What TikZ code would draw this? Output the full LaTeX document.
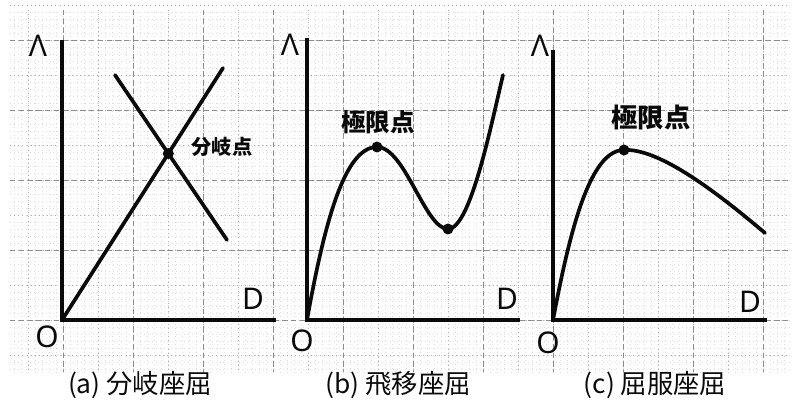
\documentclass[tikz,border=0pt]{standalone}
\usepackage{fontspec}
\setmainfont{Noto Sans}
\newfontfamily\jp{Noto Sans CJK JP}
\usepackage{tikz}
\usetikzlibrary{calc}
\definecolor{ink}{RGB}{10,10,10}
\definecolor{gridline}{RGB}{120,120,120}
\tikzset{
  axis/.style={draw=ink,line width=2.1pt},
  curve/.style={draw=ink,line width=2.1pt,line cap=round},
  crit/.style={circle,fill=ink,inner sep=0pt,minimum size=2.2mm},
  axlabel/.style={font=\bfseries\fontsize{17}{17}\selectfont,text=ink,inner sep=0pt},
  tag/.style={font=\jp\bfseries\fontsize{#1}{#1}\selectfont,text=ink,inner sep=0pt},
  tag/.default=14,
  subcap/.style={font=\jp\fontsize{15}{15}\selectfont,text=ink,inner sep=0pt},
  fine/.style={draw=gridline!25,line width=0.25pt,dotted},
  half/.style={draw=gridline!60,line width=0.35pt,dotted},
  major/.style={draw=gridline!85,line width=0.4pt,densely dashed},
}

\begin{document}
\begin{tikzpicture}[x=0.02cm,y=-0.02cm]
    \useasboundingbox (0,0) rectangle (798,401);
    % graph paper
    \foreach \x in {14,21,...,784} \draw[fine] (\x,12) -- (\x,372);
    \foreach \y in {12,19,...,369} \draw[fine] (10,\y) -- (790,\y);
    \foreach \x in {28,63,...,784} \draw[half] (\x,10) -- (\x,372);
    \foreach \y in {5,40,...,370} \draw[half] (10,\y) -- (790,\y);
    \foreach \x in {63,133,...,784} \draw[major] (\x,10) -- (\x,372);
    \foreach \y in {40,110,...,370} \draw[major] (10,\y) -- (790,\y);

    % (a) bifurcation
    \coordinate (oa) at (62,320);
    \draw[axis] (62,40) -- (oa) -- (276,320);
    \node[axlabel] (lama) at (38,46) {Λ};
    \node[axlabel] (orga) at (47,337) {O};
    \node[axlabel] (da) at (253,299) {D};
    \coordinate (enda) at (223,68);
    \coordinate (crsa) at (115,75);
    \coordinate (crsb) at (227,240);
    \draw[curve] (oa) -- (enda);
    \draw[curve] (crsa) -- (crsb);
    \node[crit] (bif) at (intersection of oa--enda and crsa--crsb) {};
    \node[tag=11.5] (biftag) at (222,147) {分岐点};
    \node[subcap] (capa) at (140,385) {(a) 分岐座屈};

    % (b) snap-through
    \coordinate (ob) at (307,320);
    \draw[axis] (307,38) -- (ob) -- (520,320);
    \node[axlabel] (lamb) at (290,45) {Λ};
    \node[axlabel] (orgb) at (302,341) {O};
    \node[axlabel] (db) at (507,299) {D};
    \node[crit] (peakb) at (377,147) {};
    \node[crit] (lowb) at (448,229) {};
    \coordinate (endb) at (503,75);
    \draw[curve] (ob) .. controls (325,220) and (345,147) .. (peakb.center)
      .. controls (405,147) and (425,229) .. (lowb.center)
      .. controls (470,229) and (490,130) .. (endb);
    \node[tag] (limb) at (378,122) {極限点};
    \node[subcap] (capb) at (398,385) {(b) 飛移座屈};

    % (c) limit point with softening
    \coordinate (oc) at (553,320);
    \draw[axis] (553,50) -- (oc) -- (767,320);
    \node[axlabel] (lamc) at (540,46) {Λ};
    \node[axlabel] (orgc) at (548,343) {O};
    \node[axlabel] (dc) at (750,302) {D};
    \node[crit] (peakc) at (624,150) {};
    \coordinate (endc) at (765,233);
    \draw[curve] (oc) .. controls (570,230) and (590,150) .. (peakc.center)
      .. controls (660,148) and (720,195) .. (endc);
    \node[tag=15] (limc) at (651,118) {極限点};
    \node[subcap] (capc) at (655,385) {(c) 屈服座屈};
\end{tikzpicture}
\end{document}
